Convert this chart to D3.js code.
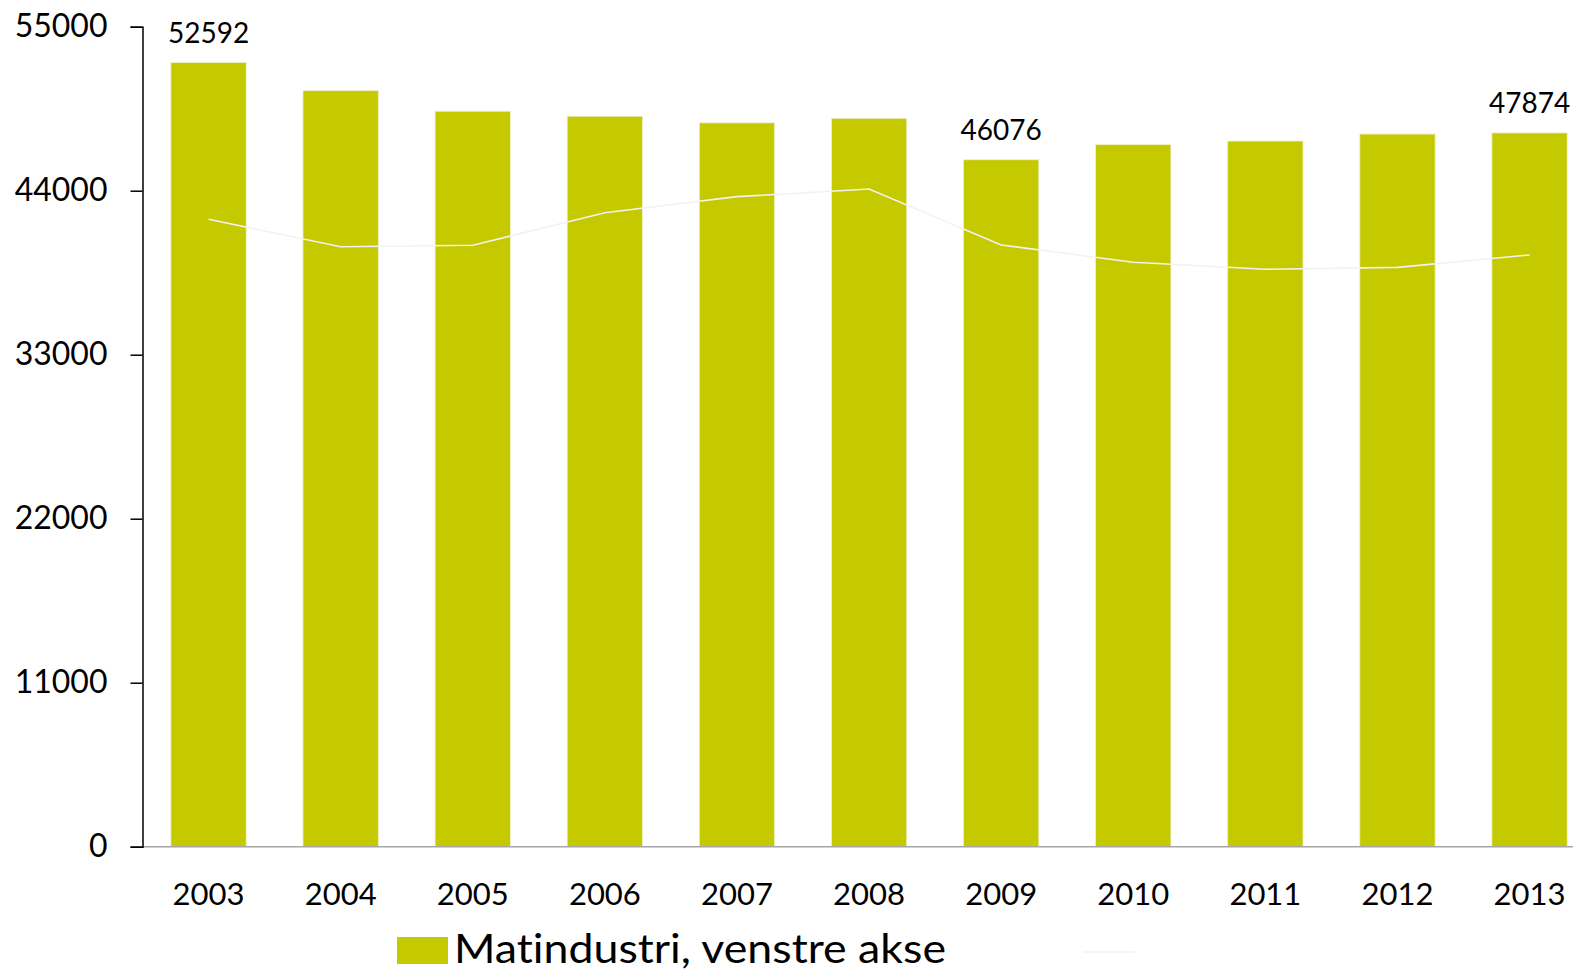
<!DOCTYPE html>
<html>
<head>
<meta charset="utf-8">
<script src="https://cdn.jsdelivr.net/npm/d3@7/dist/d3.min.js"></script>
<style>
  html, body { margin: 0; padding: 0; background: #ffffff; }
  svg { display: block; font-family: Lato, "Open Sans", sans-serif; font-variant-ligatures: none; font-feature-settings: "liga" 0, "clig" 0; }
</style>
</head>
<body>
<svg id="chart" width="1573" height="973"></svg>
<script>
// ---- data ----
const years = ["2003","2004","2005","2006","2007","2008","2009","2010","2011","2012","2013"];
const matindustri = [52592, 50710, 49330, 48990, 48550, 48855, 46076, 47090, 47330, 47800, 47874];
// secondary (right-axis) series, drawn as a faint white line
const rightSeries = [42080, 40240, 40340, 42520, 43600, 44110, 40360, 39200, 38730, 38860, 39690];
const yTicks = [0, 11000, 22000, 33000, 44000, 55000];
const labelledYears = ["2003", "2009", "2013"];
const legendLabel = "Matindustri, venstre akse";

// ---- layout ----
const svg = d3.select("#chart");
const x0 = 142.5, step = 132.1;
const yTop = 26.7, yBottom = 846.7;

const x = d3.scaleBand().domain(years).range([x0, x0 + step * years.length]).paddingInner(0.43).paddingOuter(0.215);
const y = d3.scaleLinear().domain([0, 55000]).range([yBottom, yTop]);
const yRight = d3.scaleLinear().domain([0, 55000]).range([yBottom, yTop]);

const barColor = "#c5c900";

// bars
svg.append("g").selectAll("rect").data(years).join("rect")
  .attr("x", d => x(d))
  .attr("width", x.bandwidth())
  .attr("y", (d, i) => y(matindustri[i]))
  .attr("height", (d, i) => y(0) - y(matindustri[i]))
  .attr("fill", barColor)
  .attr("stroke", "#eef0c8")
  .attr("stroke-width", 0.8);

// secondary line
const line = d3.line()
  .x((d, i) => x(years[i]) + x.bandwidth() / 2)
  .y(d => yRight(d));
svg.append("path").datum(rightSeries)
  .attr("d", line)
  .attr("fill", "none")
  .attr("stroke", "#f2f2f2")
  .attr("stroke-width", 1.6);

// x axis (grey baseline, no ticks)
svg.append("line")
  .attr("x1", x0).attr("x2", 1573)
  .attr("y1", y(0)).attr("y2", y(0))
  .attr("stroke", "#a6a6a6").attr("stroke-width", 1.5);

// y axis
const yAxis = d3.axisLeft(y).tickValues(yTicks).tickSize(12).tickPadding(23).tickFormat(d3.format("d"));
const gy = svg.append("g").attr("transform", `translate(${x0},0)`).call(yAxis);
gy.select(".domain").attr("stroke", "#000").attr("stroke-width", 1.5);
gy.selectAll(".tick line").attr("stroke", "#000").attr("stroke-width", 1.5);
gy.selectAll(".tick text")
  .attr("fill", "#000")
  .style("font-size", "32px")
  .style("font-family", "Lato, 'Open Sans', sans-serif");

// x axis labels
const xAxis = d3.axisBottom(x).tickSize(0).tickPadding(36);
const gx = svg.append("g").attr("transform", `translate(0,${y(0)})`).call(xAxis);
gx.select(".domain").remove();
gx.selectAll(".tick text")
  .attr("fill", "#000")
  .style("font-size", "31px")
  .style("font-family", "Lato, 'Open Sans', sans-serif");

// data labels
svg.append("g").selectAll("text")
  .data(years.map((d, i) => ({ year: d, v: matindustri[i] })).filter(d => labelledYears.includes(d.year)))
  .join("text")
  .attr("x", d => x(d.year) + x.bandwidth() / 2)
  .attr("y", d => y(d.v) - 20)
  .attr("text-anchor", "middle")
  .attr("fill", "#000")
  .style("font-size", "28px")
  .text(d => d.v);

// legend
const lg = svg.append("g");
lg.append("rect").attr("x", 397).attr("y", 937).attr("width", 51).attr("height", 27).attr("fill", barColor);
lg.append("text").attr("x", 454).attr("y", 963)
  .attr("fill", "#000")
  .style("font-size", "40px")
  .attr("textLength", 492)
  .attr("lengthAdjust", "spacingAndGlyphs")
  .text(legendLabel);
lg.append("line").attr("x1", 1083).attr("x2", 1135).attr("y1", 952).attr("y2", 952)
  .attr("stroke", "#f2f2f2").attr("stroke-width", 1.6);
</script>
</body>
</html>
